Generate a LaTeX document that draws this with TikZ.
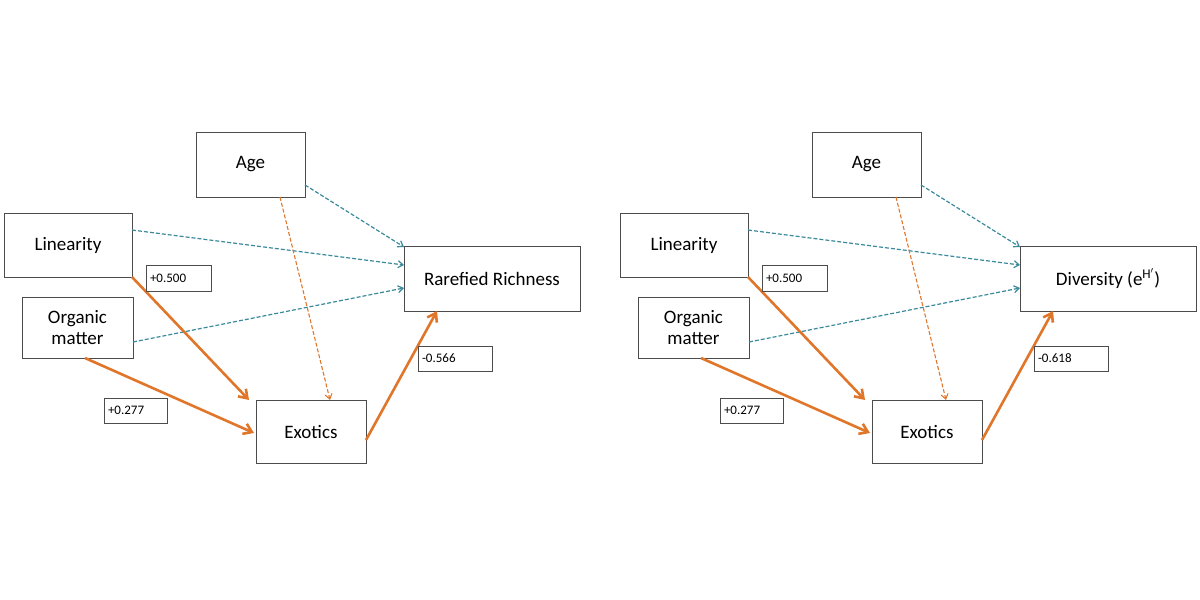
\documentclass[tikz,border=0pt]{standalone}
\usepackage{fontspec}
\setmainfont{Carlito}
\usetikzlibrary{arrows.meta}
\definecolor{teal1}{HTML}{3A8A9C}
\definecolor{org}{HTML}{E0762A}
\begin{document}
\begin{tikzpicture}[x=1pt,y=-1pt,
 box/.style={draw=black!70,fill=white,inner sep=0pt,align=center,font=\fontsize{19}{21}\selectfont},
 lab/.style={draw=black!70,fill=white,inner sep=0pt,font=\fontsize{13}{15}\selectfont,anchor=center},
 td/.style={draw=teal1,line width=1.2pt,dash pattern=on 4pt off 2pt,-{Straight Barb[length=5pt,width=7pt]}},
 od/.style={draw=org,line width=1.1pt,dash pattern=on 4pt off 2pt,-{Straight Barb[length=5pt,width=7pt]}},
 os/.style={draw=org,line width=2.6pt,-{Straight Barb[length=8pt,width=11pt]}}]
\useasboundingbox (0,0) rectangle (1200,600);
\foreach \dx/\p/\tgt/\num in {0/L/Rarefied Richness/-0.566, 616/R/Diversity (e$^{\mathrm{H}'}$)/-0.618}{
 \begin{scope}[xshift=\dx pt]
 \node[box,minimum width=109pt,minimum height=65pt] (age\p) at (250.5,164.5) {Age};
 \node[box,minimum width=128pt,minimum height=64pt] (lin\p) at (68,245) {Linearity};
 \node[box,minimum width=111pt,minimum height=61pt] (org\p) at (77.5,327.5) {Organic\\matter};
 \node[box,minimum width=176pt,minimum height=65pt] (rr\p) at (492,278.5) {\tgt};
 \node[box,minimum width=110pt,minimum height=63pt] (ex\p) at (311,431.5) {Exotics};
 \coordinate (a1\p) at (305,185); \coordinate (a2\p) at (280,197);
 \coordinate (r1\p) at (404,247); \coordinate (r2\p) at (404,265); \coordinate (r3\p) at (404,288);
 \coordinate (l1\p) at (132,230); \coordinate (l2\p) at (132,277);
 \coordinate (o1\p) at (133,342); \coordinate (o2\p) at (85,358);
 \coordinate (e1\p) at (330,400); \coordinate (e2\p) at (249,400); \coordinate (e3\p) at (254,433);
 \coordinate (e4\p) at (366,440); \coordinate (r4\p) at (437,311);
 \draw[td] (a1\p) -- (r1\p);
 \draw[td] (l1\p) -- (r2\p);
 \draw[td] (o1\p) -- (r3\p);
 \draw[od] (a2\p) -- (e1\p);
 \draw[os] (l2\p) -- (e2\p);
 \draw[os] (o2\p) -- (e3\p);
 \draw[os] (e4\p) -- (r4\p);
 \node[lab,minimum width=65pt,minimum height=26pt,text width=57pt,align=left] (n1\p) at (178.5,278) {+0.500};
 \node[lab,minimum width=63pt,minimum height=25pt,text width=55pt,align=left] (n2\p) at (135.5,410.5) {+0.277};
 \node[lab,minimum width=74pt,minimum height=25pt,text width=66pt,align=left] (n3\p) at (455,358.5) {\num};
 \end{scope}}
\end{tikzpicture}
\end{document}
